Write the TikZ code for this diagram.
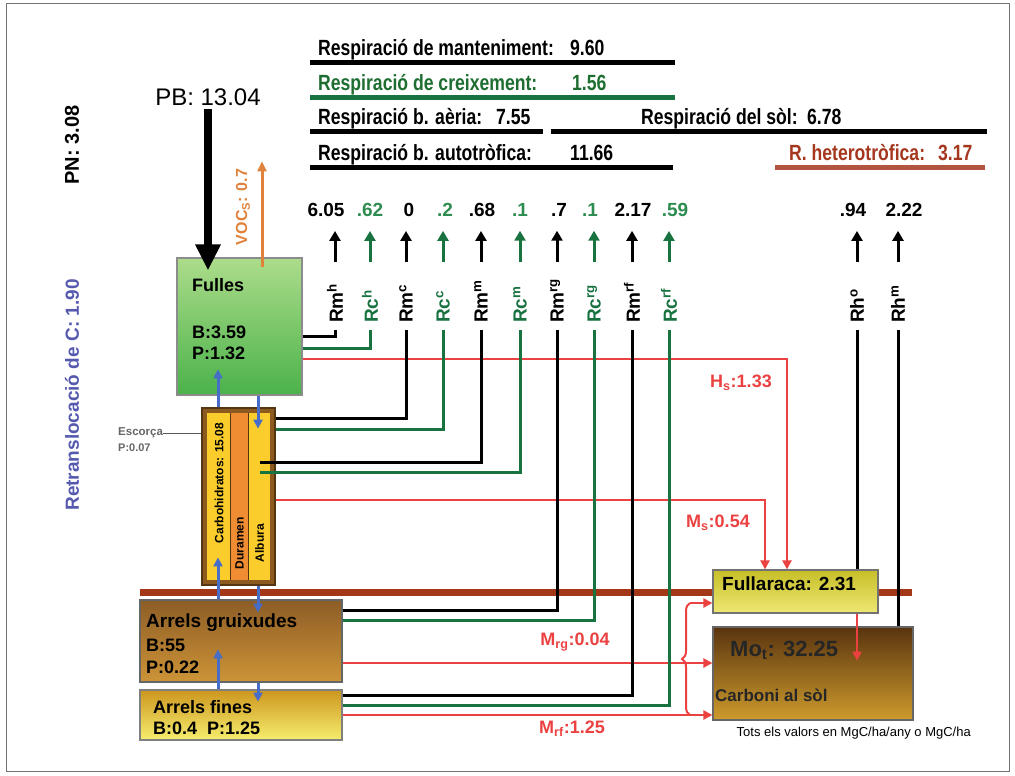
\documentclass[tikz,border=0pt]{standalone}
\usepackage{fontspec}
\setmainfont{Liberation Sans}
\newfontfamily\narrowfont[FakeStretch=0.8]{Liberation Sans}
\usetikzlibrary{arrows.meta,calc,decorations.pathreplacing}

\definecolor{clGreen}{RGB}{25,115,65}
\definecolor{clHgreen}{RGB}{30,110,50}
\definecolor{clNgreen}{RGB}{45,140,80}
\definecolor{clRed}{RGB}{235,65,65}
\definecolor{clBlue}{RGB}{70,110,200}
\definecolor{clVoc}{RGB}{225,130,60}
\definecolor{clSoil}{RGB}{165,55,25}
\definecolor{clHet}{RGB}{165,55,30}
\definecolor{clRet}{RGB}{85,90,175}
\definecolor{clFulTop}{RGB}{172,220,138}
\definecolor{clFulBot}{RGB}{75,178,75}
\definecolor{clBark}{RGB}{140,90,30}
\definecolor{clCarb}{RGB}{250,205,45}
\definecolor{clDur}{RGB}{240,140,50}
\definecolor{clFlrTop}{RGB}{198,190,40}
\definecolor{clFlrBot}{RGB}{238,232,115}
\definecolor{clMoTop}{RGB}{90,52,15}
\definecolor{clMoBot}{RGB}{205,155,45}
\definecolor{clAgTop}{RGB}{140,92,38}
\definecolor{clAgBot}{RGB}{205,148,55}
\definecolor{clAfTop}{RGB}{205,150,30}
\definecolor{clAfBot}{RGB}{245,238,110}

\newcommand*{\fsz}[1]{\fontsize{#1}{#1}\selectfont}
\newcommand*{\numrow}{210}
\newcommand*{\labbot}{330}
\newcommand*{\arrbot}{262}
\newcommand*{\gnd}{592}

\begin{document}
\begin{tikzpicture}
[
	x=1pt,y=-1pt,
	hdr/.style={font=\narrowfont\bfseries\fsz{22},anchor=base west,inner sep=0pt},
	num/.style={font=\bfseries\fsz{19},inner sep=0pt},
	rlab/.style={font=\bfseries\fsz{19},rotate=90,anchor=west,inner xsep=7pt,inner ysep=0pt},
	boxs/.style={draw=#1,line width=1.2pt,inner sep=0pt},
	txt/.style={font=\bfseries\fsz{18},anchor=west,inner sep=0pt},
	rtxt/.style={font=\bfseries\fsz{18},clRed,inner sep=0pt},
	blk/.style={line width=3pt},
	grn/.style={line width=3pt,clGreen},
	rline/.style={line width=2.5pt,clRed},
	rarr/.style={rline,-{Triangle[width=9pt,length=9pt]}},
	uparr/.style={line width=3pt,-{Triangle[width=11pt,length=10pt]},shorten >=14pt},
	barr/.style={line width=3pt,clBlue,-{Triangle[width=9pt,length=9pt]}},
	hbar/.style={line width=5pt}
]

	\useasboundingbox (0,0) rectangle (1015,776);
	\draw[black!55,line width=1pt] (6,4) rectangle (1009,771);

	% header
	\node[hdr] (rman) at (318,56) {Respiració de manteniment:};
	\node[hdr] (vman) at (570,56) {9.60};
	\draw[hbar] (310,63) -- (675,63);
	\node[hdr,clHgreen] (rcre) at (318,90) {Respiració de creixement:};
	\node[hdr,clHgreen] (vcre) at (572,90) {1.56};
	\draw[hbar,clGreen] (310,97) -- (675,97);
	\node[hdr] (raer) at (318,124) {Respiració b. aèria:};
	\node[hdr] (vaer) at (496,124) {7.55};
	\draw[hbar] (310,131) -- (543,131);
	\node[hdr] (rsol) at (641,124) {Respiració del sòl:};
	\node[hdr] (vsol) at (807,124) {6.78};
	\draw[hbar] (551,131) -- (987,131);
	\node[hdr] (raut) at (318,160) {Respiració b. autotròfica:};
	\node[hdr] (vaut) at (570,160) {11.66};
	\draw[hbar] (310,167) -- (673,167);
	\node[hdr,clHet] (rhet) at (789,160) {R. heterotròfica:};
	\node[hdr,clHet] (vhet) at (938,160) {3.17};
	\draw[hbar,clHet!85!white] (775,167) -- (985,167);

	% left side
	\node[font=\bfseries\fsz{20},rotate=90] (pn) at (72,145) {PN: 3.08};
	\node[font=\bfseries\fsz{19},rotate=90,clRet] (retc) at (72,395) {Retranslocació de C: 1.90};
	\node[font=\fsz{24}] (pb) at (208,97) {PB: 13.04};

	% soil line
	\draw[clSoil,line width=7pt] (140,\gnd) -- (912,\gnd);

	% boxes
	\node[boxs=black!45,top color=clFulTop,bottom color=clFulBot,minimum width=125pt,minimum height=137pt] (fulles) at (239.5,326.5) {};
	\node[txt] (tful) at (192,285) {Fulles};
	\node[txt] (tfulb) at (192,332) {B:3.59};
	\node[txt] (tfulp) at (192,353) {P:1.32};

	\node[boxs=clBark!60!black,fill=clBark,minimum width=73pt,minimum height=177pt] (bark) at (238.5,496.5) {};
	\fill[clCarb] (207,413) rectangle (230,580);
	\fill[clDur] (230,413) rectangle (248,580);
	\fill[clCarb] (248,413) rectangle (270,580);
	\draw[clBark!60!black,line width=0.8pt] (230,413) -- (230,580) (248,413) -- (248,580);
	\node[font=\bfseries\fsz{12},rotate=90] (tcarb) at (219,483) {Carbohidratos: 15.08};
	\node[font=\bfseries\fsz{12},rotate=90] (tdur) at (239.5,543) {Duramen};
	\node[font=\bfseries\fsz{12},rotate=90] (talb) at (259.5,543) {Albura};
	\node[font=\bfseries\fsz{11.5},anchor=west,inner sep=0pt,black!60] (esc) at (118,433) {Escorça};
	\node[font=\bfseries\fsz{11},anchor=west,inner sep=0pt,black!60] (escp) at (118,448) {P:0.07};
	\draw[black!65,line width=0.8pt] (esc.east) -- (bark.west |- esc.east);

	\node[boxs=black!60,top color=clAgTop,bottom color=clAgBot,minimum width=202pt,minimum height=82pt] (ag) at (241,641) {};
	\node[txt,font=\bfseries\fsz{19}] (tag) at (146,623) {Arrels gruixudes};
	\node[txt] (tagb) at (146,645) {B:55};
	\node[txt] (tagp) at (146,667) {P:0.22};
	\node[boxs=black!50,top color=clAfTop,bottom color=clAfBot,minimum width=202pt,minimum height=50pt] (af) at (241,715) {};
	\node[txt] (taf) at (153,707) {Arrels fines};
	\node[txt] (tafb) at (153,728) {B:0.4\ \ P:1.25};

	\node[boxs=black!55,top color=clFlrTop,bottom color=clFlrBot,minimum width=165pt,minimum height=43pt] (flr) at (795.5,591.5) {};
	\node[txt,font=\bfseries\fsz{19}] (tflr) at (722,584) {Fullaraca: 2.31};
	\node[boxs=black!60,top color=clMoTop,bottom color=clMoBot,minimum width=200pt,minimum height=93pt] (mo) at (813,673.5) {};
	\node[txt,font=\bfseries\fsz{22},black!85] (tmo) at (730,650) {Mo\textsubscript{t}: 32.25};
	\node[txt,font=\bfseries\fsz{17},black!85] (tcs) at (715,695) {Carboni al sòl};
	\node[font=\fsz{13},anchor=east,inner sep=0pt] (tots) at (971,733) {Tots els valors en MgC/ha/any o MgC/ha};

	% respiration labels and values
	\node[rlab] (lRmh) at (335,\labbot) {Rm\textsuperscript{h}};
	\node[rlab,clGreen] (lRch) at (370,\labbot) {Rc\textsuperscript{h}};
	\node[rlab] (lRmc) at (406,\labbot) {Rm\textsuperscript{c}};
	\node[rlab,clGreen] (lRcc) at (443,\labbot) {Rc\textsuperscript{c}};
	\node[rlab] (lRmm) at (481,\labbot) {Rm\textsuperscript{m}};
	\node[rlab,clGreen] (lRcm) at (520,\labbot) {Rc\textsuperscript{m}};
	\node[rlab] (lRmrg) at (557,\labbot) {Rm\textsuperscript{rg}};
	\node[rlab,clGreen] (lRcrg) at (594,\labbot) {Rc\textsuperscript{rg}};
	\node[rlab] (lRmrf) at (632,\labbot) {Rm\textsuperscript{rf}};
	\node[rlab,clGreen] (lRcrf) at (669,\labbot) {Rc\textsuperscript{rf}};
	\node[rlab] (lRho) at (857,\labbot) {Rh\textsuperscript{o}};
	\node[rlab] (lRhm) at (898,\labbot) {Rh\textsuperscript{m}};

	\node[num] (nRmh) at (326,\numrow) {6.05};
	\node[num,clNgreen] (nRch) at (370,\numrow) {.62};
	\node[num] (nRmc) at (409,\numrow) {0};
	\node[num,clNgreen] (nRcc) at (445,\numrow) {.2};
	\node[num] (nRmm) at (482,\numrow) {.68};
	\node[num,clNgreen] (nRcm) at (520,\numrow) {.1};
	\node[num] (nRmrg) at (559,\numrow) {.7};
	\node[num,clNgreen] (nRcrg) at (590,\numrow) {.1};
	\node[num] (nRmrf) at (633,\numrow) {2.17};
	\node[num,clNgreen] (nRcrf) at (675,\numrow) {.59};
	\node[num] (nRho) at (853,\numrow) {.94};
	\node[num] (nRhm) at (904,\numrow) {2.22};

	\draw[uparr] (lRmh.east |- 0,\arrbot) -- (lRmh.east |- nRmh.south);
	\draw[uparr,clGreen] (lRch.east |- 0,\arrbot) -- (lRch.east |- nRch.south);
	\draw[uparr] (lRmc.east |- 0,\arrbot) -- (lRmc.east |- nRmc.south);
	\draw[uparr,clGreen] (lRcc.east |- 0,\arrbot) -- (lRcc.east |- nRcc.south);
	\draw[uparr] (lRmm.east |- 0,\arrbot) -- (lRmm.east |- nRmm.south);
	\draw[uparr,clGreen] (lRcm.east |- 0,\arrbot) -- (lRcm.east |- nRcm.south);
	\draw[uparr] (lRmrg.east |- 0,\arrbot) -- (lRmrg.east |- nRmrg.south);
	\draw[uparr,clGreen] (lRcrg.east |- 0,\arrbot) -- (lRcrg.east |- nRcrg.south);
	\draw[uparr] (lRmrf.east |- 0,\arrbot) -- (lRmrf.east |- nRmrf.south);
	\draw[uparr,clGreen] (lRcrf.east |- 0,\arrbot) -- (lRcrf.east |- nRcrf.south);
	\draw[uparr] (lRho.east |- 0,\arrbot) -- (lRho.east |- nRho.south);
	\draw[uparr] (lRhm.east |- 0,\arrbot) -- (lRhm.east |- nRhm.south);

	% flows from leaves and stem
	\draw[blk] (fulles.east |- 0,336) -| (lRmh.west);
	\draw[grn] (fulles.east |- 0,348) -| (lRch.west);
	\draw[rarr] (fulles.east |- 0,359) -| ([xshift=-8.5pt]flr.north);
	\draw[blk] (bark.east |- 0,418) -| (lRmc.west);
	\draw[grn] (bark.east |- 0,429) -| (lRcc.west);
	\coordinate (alb1) at (260,462);
	\coordinate (alb2) at (260,472);
	\draw[blk] (alb1) -| (lRmm.west);
	\draw[grn] (alb2) -| (lRcm.west);
	\draw[rarr] (bark.east |- 0,500) -| ([xshift=-30.5pt]flr.north);
	\node[rtxt] (lhs) at (741,383) {H\textsubscript{s}:1.33};
	\node[rtxt] (lms) at (718,523) {M\textsubscript{s}:0.54};

	% flows from roots
	\draw[blk] (ag.east |- 0,610) -| (lRmrg.west);
	\draw[grn] (ag.east |- 0,620) -| (lRcrg.west);
	\draw[rarr] (ag.east |- 0,663) -- (mo.west |- 0,663);
	\draw[blk] (af.east |- 0,695) -| (lRmrf.west);
	\draw[grn] (af.east |- 0,705) -| (lRcrf.west);
	\draw[rarr] (af.east |- 0,715) -- (mo.west |- 0,715);
	\node[rtxt] (lmrg) at (575,642) {M\textsubscript{rg}:0.04};
	\node[rtxt] (lmrf) at (572,729) {M\textsubscript{rf}:1.25};
	\coordinate (brtop) at (690,603);
	\coordinate (brbot) at (690,715);
	\draw[rline,line width=2pt,decorate,decoration={brace,amplitude=8pt}] (brbot) -- (brtop);
	\draw[rarr] (brtop) -- (flr.west |- brtop);

	% soil respiration
	\draw[blk] (lRho.west |- flr.north) -- (lRho.west);
	\draw[blk] (lRhm.west |- mo.north) -- (lRhm.west);
	\draw[rarr] (lRho.west |- flr.south) -- ++(0,47);

	% gross production and VOC
	\draw[line width=8pt,-{Triangle[width=24pt,length=26pt]}] (pb.south) -- ($(pb.south |- fulles.north)+(0,13)$);
	\draw[line width=3pt,clVoc,-{Triangle[width=9pt,length=10pt]}] ([xshift=22.5pt,yshift=-10pt]fulles.north) -- ++(0,-106);
	\node[font=\bfseries\fsz{16},rotate=90,clVoc] (voc) at (243,207) {VOC\textsubscript{S}: 0.7};

	% carbon transport
	\draw[barr] ([xshift=-20.5pt]bark.north) -- ++(0,-38);
	\draw[barr] ([xshift=18.5pt]fulles.south) -- ++(0,33);
	\draw[barr] ([xshift=-23pt]ag.north) -- ++(0,-42);
	\draw[barr] ([xshift=19.5pt]bark.south) -- ++(0,27);
	\draw[barr] ([xshift=-23pt]af.north) -- ++(0,-40);
	\draw[barr] ([xshift=17pt]ag.south) -- ++(0,19);

\end{tikzpicture}
\end{document}
